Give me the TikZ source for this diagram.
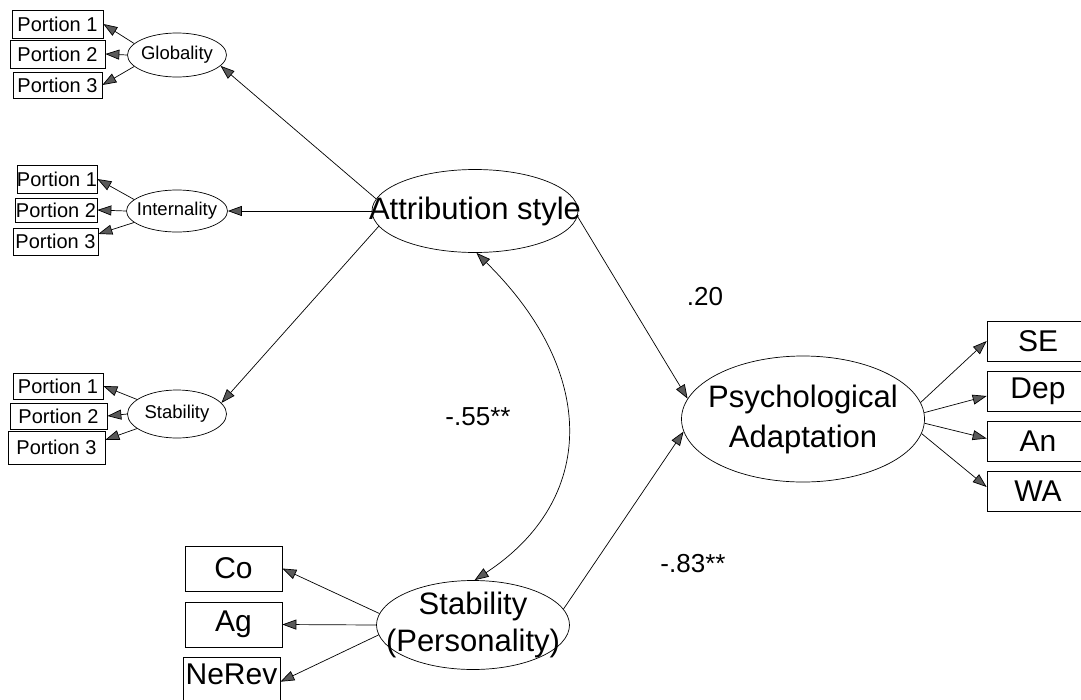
\documentclass[tikz,border=0pt]{standalone}
\usepackage{fontspec}
\setmainfont{Liberation Sans}
\usetikzlibrary{arrows.meta,shapes.geometric}
\begin{document}
\begin{tikzpicture}[x=1pt,y=-1pt,line width=0.7pt,
  arr/.style={-{Triangle[length=14pt,width=10pt,fill=gray!70!black]}},
  biarr/.style={{Triangle[length=14pt,width=10pt,fill=gray!70!black]}-{Triangle[length=14pt,width=10pt,fill=gray!70!black]}},
  lat/.style={draw,ellipse,inner sep=0pt},
  pbox/.style={draw,rectangle,inner sep=0pt,font=\fontsize{20}{21}\selectfont},
  bbox/.style={draw,rectangle,inner sep=0pt,font=\fontsize{30}{32}\selectfont},
  rbox/.style={draw,rectangle,inner sep=0pt,font=\fontsize{30}{32}\selectfont,minimum width=102pt,minimum height=40pt},
  smalllat/.style={font=\fontsize{18.5}{20}\selectfont},
  biglat/.style={font=\fontsize{31}{40}\selectfont,align=center},
  coef/.style={inner sep=0pt,font=\fontsize{26}{28}\selectfont}
]
\useasboundingbox[fill=white] (0,0) rectangle (1081,699);

% Globality group
\node[pbox,minimum width=91pt,minimum height=28pt] (g1) at (57.5,24) {Portion 1};
\node[pbox,minimum width=95pt,minimum height=28pt] (g2) at (57.5,54) {Portion 2};
\node[pbox,minimum width=89pt,minimum height=26pt] (g3) at (57.5,85) {Portion 3};
\node[lat,minimum width=99pt,minimum height=44pt,label={[smalllat]center:Globality}] (glob) at (177,55) {};

% Internality group
\node[pbox,minimum width=80pt,minimum height=28pt] (i1) at (57,179) {Portion 1};
\node[pbox,minimum width=82pt,minimum height=24pt] (i2) at (56,210) {Portion 2};
\node[pbox,minimum width=85pt,minimum height=27pt] (i3) at (55.5,241.5) {Portion 3};
\node[lat,minimum width=101pt,minimum height=42pt,label={[smalllat]center:Internality}] (int) at (177,211) {};

% Stability group
\node[pbox,minimum width=90pt,minimum height=26pt] (s1) at (58,386) {Portion 1};
\node[pbox,minimum width=97pt,minimum height=26pt] (s2) at (58.5,416) {Portion 2};
\node[pbox,minimum width=97pt,minimum height=33pt] (s3) at (56.5,447.5) {Portion 3};
\node[lat,minimum width=99pt,minimum height=48pt,label={[smalllat]center:Stability}] (stab) at (177,414) {};

% Main latent variables
\node[lat,minimum width=206pt,minimum height=83pt,label={[font=\fontsize{31}{36}\selectfont]center:Attribution style}] (attr) at (475,211) {};
\node[lat,minimum width=243pt,minimum height=126pt,label={[biglat]center:Psychological\\Adaptation}] (psych) at (803,419) {};
\node[lat,minimum width=193pt,minimum height=89pt,label={[biglat,font=\fontsize{31}{37}\selectfont]center:Stability\\(Personality)}] (stabp) at (473,625) {};

% Right indicators
\node[rbox] (se) at (1038,341) {SE};
\node[rbox] (dep) at (1038,391) {Dep};
\node[rbox] (an) at (1038,441.5) {An};
\node[rbox] (wa) at (1038,491) {WA};

% Bottom-left indicators
\node[bbox,minimum width=97pt,minimum height=45pt] (co) at (233.5,568.5) {Co};
\node[bbox,minimum width=97pt,minimum height=45pt] (ag) at (233.5,624.5) {Ag};
\node[bbox,minimum width=97pt,anchor=north,text height=27pt,text depth=40pt,inner ysep=0pt] (nerev) at (231.5,657) {NeRev};

% Coefficients
\node[coef] (c20) at (705,297) {.20};
\node[coef] (c55) at (478,417) {-.55**};
\node[coef] (c83) at (693,564) {-.83**};

% Structural paths
\draw[arr] (attr.173) -- (glob.-14);
\draw[arr] (attr.180) -- (int.0);
\draw[arr] (attr.189) -- (stab.14);
\draw[arr] (attr.-3) -- (psych.170);
\draw[arr] (stabp.10) -- (psych.186);
\draw[biarr] (attr.-88) .. controls +(122,120) and +(122,-80) .. (stabp.88);

% Measurement paths
\draw[arr] (glob.165) -- (g1.east);
\draw[arr] (glob.180) -- (g2.east);
\draw[arr] (glob.195) -- (g3.east);
\draw[arr] (int.165) -- (i1.east);
\draw[arr] (int.180) -- (i2.east);
\draw[arr] (int.195) -- (i3.10);
\draw[arr] (stab.160) -- (s1.east);
\draw[arr] (stab.180) -- (s2.east);
\draw[arr] (stab.200) -- (s3.9);
\draw[arr] (psych.8) -- (se.west);
\draw[arr] (psych.3) -- ([yshift=-5pt]dep.west);
\draw[arr] (psych.-2) -- ([yshift=3pt]an.west);
\draw[arr] (psych.-7) -- ([yshift=4pt]wa.west);
\draw[arr] (stabp.173) -- (co.east);
\draw[arr] (stabp.180) -- (ag.east);
\draw[arr] (stabp.186) -- (nerev.mid east);
\end{tikzpicture}
\end{document}
